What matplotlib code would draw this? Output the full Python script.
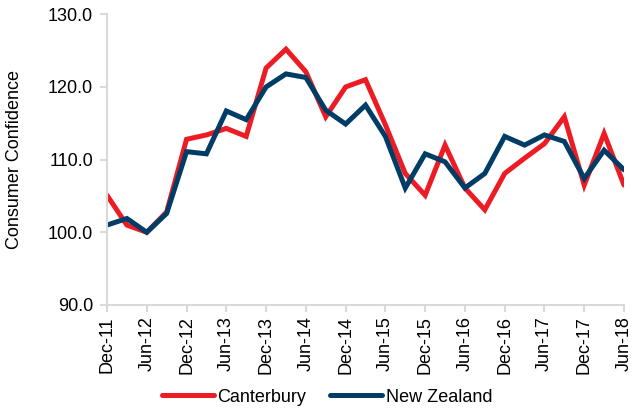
import numpy as np
import matplotlib.pyplot as plt

plt.rcParams['font.family'] = ['Liberation Sans', 'DejaVu Sans']

# quarterly, Dec-11 .. Jun-18
quarters = ['Dec-11', 'Mar-12', 'Jun-12', 'Sep-12', 'Dec-12', 'Mar-13', 'Jun-13',
            'Sep-13', 'Dec-13', 'Mar-14', 'Jun-14', 'Sep-14', 'Dec-14', 'Mar-15',
            'Jun-15', 'Sep-15', 'Dec-15', 'Mar-16', 'Jun-16', 'Sep-16', 'Dec-16',
            'Mar-17', 'Jun-17', 'Sep-17', 'Dec-17', 'Mar-18', 'Jun-18']

canterbury = [105.1, 101.0, 100.0, 102.8, 112.8, 113.4, 114.3, 113.2, 122.6, 125.2,
              122.1, 115.9, 120.0, 121.0, 114.8, 108.1, 105.1, 112.0, 106.1, 103.1,
              108.1, 110.2, 112.2, 115.9, 106.5, 113.6, 106.5]

new_zealand = [101.0, 101.9, 100.0, 102.6, 111.1, 110.8, 116.7, 115.5, 120.0, 121.8,
               121.3, 116.8, 114.9, 117.5, 113.2, 106.1, 110.8, 109.7, 106.1, 108.1,
               113.2, 112.0, 113.4, 112.5, 107.4, 111.3, 108.6]

RED = '#ED1C24'
BLUE = '#003D66'
GREY = '#D9D9D9'
FS = 13

fig = plt.figure(figsize=(6.37, 4.15), dpi=100)
ax = fig.add_axes([107 / 637, 1 - 305 / 415, (624 - 107) / 637, (305 - 14.3) / 415])

x = np.arange(len(quarters))
ax.plot(x, canterbury, color=RED, linewidth=3.6, label='Canterbury',
        solid_joinstyle='miter', solid_capstyle='round')
ax.plot(x, new_zealand, color=BLUE, linewidth=3.6, label='New Zealand',
        solid_joinstyle='miter', solid_capstyle='round')

ax.set_xlim(0, len(quarters) - 1)
ax.set_ylim(90, 130)
ax.set_yticks(np.arange(90, 131, 10))
ax.set_yticklabels([f'{v:.1f}' for v in np.arange(90, 131, 10)], fontsize=FS)
ax.set_xticks(x[::2])
ax.set_xticklabels(quarters[::2], rotation=90, fontsize=FS)

for side in ['top', 'right']:
    ax.spines[side].set_visible(False)
for side in ['left', 'bottom']:
    ax.spines[side].set_color(GREY)
    ax.spines[side].set_linewidth(1.5)
ax.tick_params(axis='both', color=GREY, width=1.5, length=5)
ax.tick_params(axis='y', pad=5)
ax.tick_params(axis='x', pad=3)
ax.set_ylabel('Consumer Confidence', fontsize=FS, labelpad=18)

fig.legend(loc='center', bbox_to_anchor=(327 / 637, 1 - 397 / 415), ncol=2,
           frameon=False, fontsize=FS, handlelength=2.9, handletextpad=0.2,
           columnspacing=1.3)

fig.savefig('out.png', dpi=100)
